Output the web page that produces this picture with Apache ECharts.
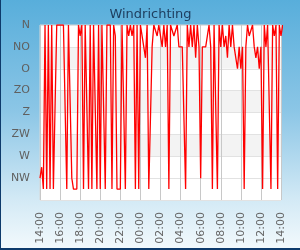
<!DOCTYPE html>
<html>
<head>
<meta charset="utf-8">
<script src="https://cdn.jsdelivr.net/npm/echarts@6/dist/echarts.min.js"></script>
<style>
html,body{margin:0;padding:0;}
body{width:300px;height:250px;overflow:hidden;}
#frame{box-sizing:border-box;width:300px;height:250px;border-left:1px solid #0d3a6b;border-bottom:2px solid #0d3a6b;
background:linear-gradient(to bottom,#58aedb 0%,#8cc6e6 45%,#d2e9f5 80%,#f2f9fc 100%);}
#chart{width:299px;height:248px;}
</style>
</head>
<body>
<div id="frame"><div id="chart"></div></div>
<script>
// Wind direction (degrees), one reading every 10 minutes from 14:00 to 14:00 next day
const startLabel = '14:00';
const stepMinutes = 10;
const directionDeg = [
  315, 292.5, 337.5, 0, 337.5, 0,
  337.5, 0, 337.5, 337.5, 0, 0,
  0, 0, 0, 0, 337.5, 0,
  0, 315, 337.5, 337.5, 337.5, 0,
  22.5, 0, 337.5, 0, 0, 337.5,
  0, 337.5, 0, 0, 337.5, 0,
  337.5, 0, 0, 337.5, 0, 0,
  0, 337.5, 0, 22.5, 337.5, 337.5,
  337.5, 0, 0, 337.5, 0, 22.5,
  0, 22.5, 0, 337.5, 0, 337.5,
  0, 22.5, 45, 67.5, 0, 337.5,
  337.5, 45, 0, 0, 22.5, 0,
  0, 45, 0, 45, 0, 337.5,
  0, 0, 22.5, 22.5, 0, 45,
  45, 45, 45, 337.5, 0, 45,
  0, 45, 0, 67.5, 0, 45,
  315, 45, 45, 45, 22.5, 0,
  45, 337.5, 0, 0, 337.5, 0,
  45, 0, 45, 22.5, 67.5, 0,
  45, 0, 45, 67.5, 90, 45,
  90, 45, 337.5, 45, 0, 22.5,
  22.5, 0, 45, 67.5, 45, 90,
  45, 337.5, 0, 45, 0, 0,
  337.5, 0, 22.5, 0, 337.5, 0,
  22.5, 0
];
const yLabels = ['N', 'NO', 'O', 'ZO', 'Z', 'ZW', 'W', 'NW'];
const xTickLabels = ['14:00','16:00','18:00','20:00','22:00','00:00','02:00','04:00','06:00','08:00','10:00','12:00','14:00'];

const seriesData = directionDeg.map((v, i) => [i * stepMinutes, v]);

const chart = echarts.init(document.getElementById('chart'), null, {renderer: 'canvas'});
chart.setOption({
  animation: false,
  backgroundColor: 'transparent',
  title: {
    text: 'Windrichting',
    left: 'center',
    top: 3,
    textStyle: {color: '#1f3f60', fontSize: 13, fontWeight: 'normal', fontFamily: 'DejaVu Sans'}
  },
  grid: {
    left: 39, right: 19, top: 25, bottom: 48,
    show: true, backgroundColor: '#ffffff', borderColor: '#d6d6d6', borderWidth: 1
  },
  xAxis: {
    type: 'value',
    min: 0, max: 1440, interval: 120,
    axisLine: {show: false},
    axisTick: {show: false},
    splitLine: {show: true, lineStyle: {color: '#c8c8c8', width: 1}},
    axisLabel: {
      rotate: 90, margin: 12, color: '#666666', fontSize: 11, fontFamily: 'DejaVu Sans',
      formatter: v => xTickLabels[Math.round(v / 120)] || ''
    }
  },
  yAxis: {
    type: 'value',
    inverse: true,
    min: 0, max: 360, interval: 45,
    axisLine: {show: false},
    axisTick: {show: false},
    splitLine: {show: true, lineStyle: {color: '#e2e2e2', width: 1}},
    splitArea: {show: true, areaStyle: {color: ['#ffffff','#f3f3f3','#ffffff','#f3f3f3','#ffffff','#f3f3f3','#ffffff','#ffffff']}},
    axisLabel: {
      margin: 10, color: '#606060', fontSize: 11, fontFamily: 'DejaVu Sans',
      formatter: v => yLabels[Math.round(v / 45)] || ''
    }
  },
  series: [{
    type: 'line',
    data: seriesData,
    showSymbol: false,
    lineStyle: {color: '#ff0000', width: 1.3},
    itemStyle: {color: '#ff0000'}
  }]
});
</script>
</body>
</html>
